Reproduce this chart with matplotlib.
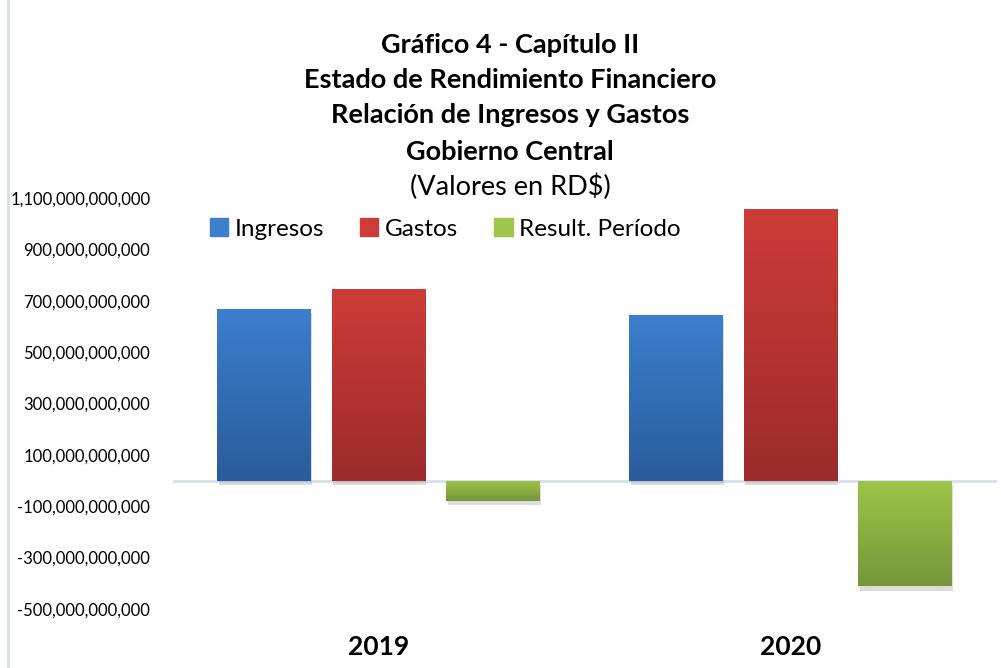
import numpy as np
import matplotlib
matplotlib.use("Agg")
import matplotlib.pyplot as plt
from matplotlib import patheffects
from matplotlib.colors import LinearSegmentedColormap
from matplotlib.ticker import FuncFormatter

plt.rcParams["font.family"] = ["Lato", "DejaVu Sans"]

years = ["2019", "2020"]
series = ["Ingresos", "Gastos", "Result. Período"]
ingresos = [667e9, 644e9]
gastos = [745e9, 1056e9]
resultado = [-78e9, -412e9]
values = [ingresos, gastos, resultado]

# (top, bottom) colours of the gradient for each series
grad_colors = [("#3B7FCD", "#2B5C9B"), ("#CD3C38", "#9C2B2B"), ("#9DC64A", "#76953A")]

title_lines = ["Gráfico 4 - Capítulo II", "Estado de Rendimiento Financiero",
               "Relación de Ingresos y Gastos", "Gobierno Central"]
subtitle = "(Valores en RD$)"

W, H = 1001, 668
fig = plt.figure(figsize=(W / 100, H / 100), dpi=100)
ax = fig.add_axes([172.5 / W, (H - 609) / H, 824 / W, 411 / H])

x = np.arange(len(years))
width = 0.226
step = 0.278
offsets = [-step, 0, step]

grad = np.linspace(0, 1, 256).reshape(-1, 1)
for vals, off, (c_top, c_bot) in zip(values, offsets, grad_colors):
    bars = ax.bar(x + off, vals, width, color=c_top, zorder=2)
    cmap = LinearSegmentedColormap.from_list("g", [c_top, c_bot])
    for b in bars:
        b.set_path_effects([patheffects.SimplePatchShadow(offset=(1, -3), shadow_rgbFace="#666666", alpha=0.22),
                            patheffects.Normal()])
        x0, y0 = b.get_x(), b.get_y()
        x1, y1 = x0 + b.get_width(), y0 + b.get_height()
        top, bot = max(y0, y1), min(y0, y1)
        im = ax.imshow(grad, cmap=cmap, aspect="auto", extent=(x0, x1, bot, top),
                       origin="upper", zorder=3)
        im.set_clip_path(b)

ax.axhline(0, color="#D5E0EF", lw=2, zorder=1)

ax.set_xlim(-0.5, 1.5)
ax.set_ylim(-500e9, 1100e9)
ax.set_yticks(np.arange(-500e9, 1100e9 + 1, 200e9))
ax.yaxis.set_major_formatter(FuncFormatter(lambda v, p: f"{v:,.0f}"))
ax.tick_params(axis="y", length=0, pad=16, labelsize=12)
ax.set_xticks([])
for s in ax.spines.values():
    s.set_visible(False)

for xi, yr in zip(x, years):
    fig.text((172.5 + (xi + 0.5) * 412) / W, (H - 647) / H, yr, ha="center", va="center",
             fontsize=19, fontweight="bold")

title_y = [45, 80, 115, 152]
for t, yy in zip(title_lines, title_y):
    fig.text(510 / W, (H - yy) / H, t, ha="center", va="center", fontsize=19.5, fontweight="bold")
fig.text(510 / W, (H - 187) / H, subtitle, ha="center", va="center", fontsize=19.5)

handles = [plt.Rectangle((0, 0), 1, 1, color=c[0]) for c in grad_colors]
fig.legend(handles, series, loc="center left", bbox_to_anchor=(210 / W, (H - 229) / H),
           ncol=3, frameon=False, fontsize=17.5, handlelength=0.75, handleheight=0.75,
           handletextpad=0.25, columnspacing=1.5, borderaxespad=0, borderpad=0)

# chart border on the left
fig.add_artist(plt.Line2D([8 / W, 8 / W], [0, 1], color="#D5E0EF", lw=2))

fig.savefig("out.png", dpi=100)
